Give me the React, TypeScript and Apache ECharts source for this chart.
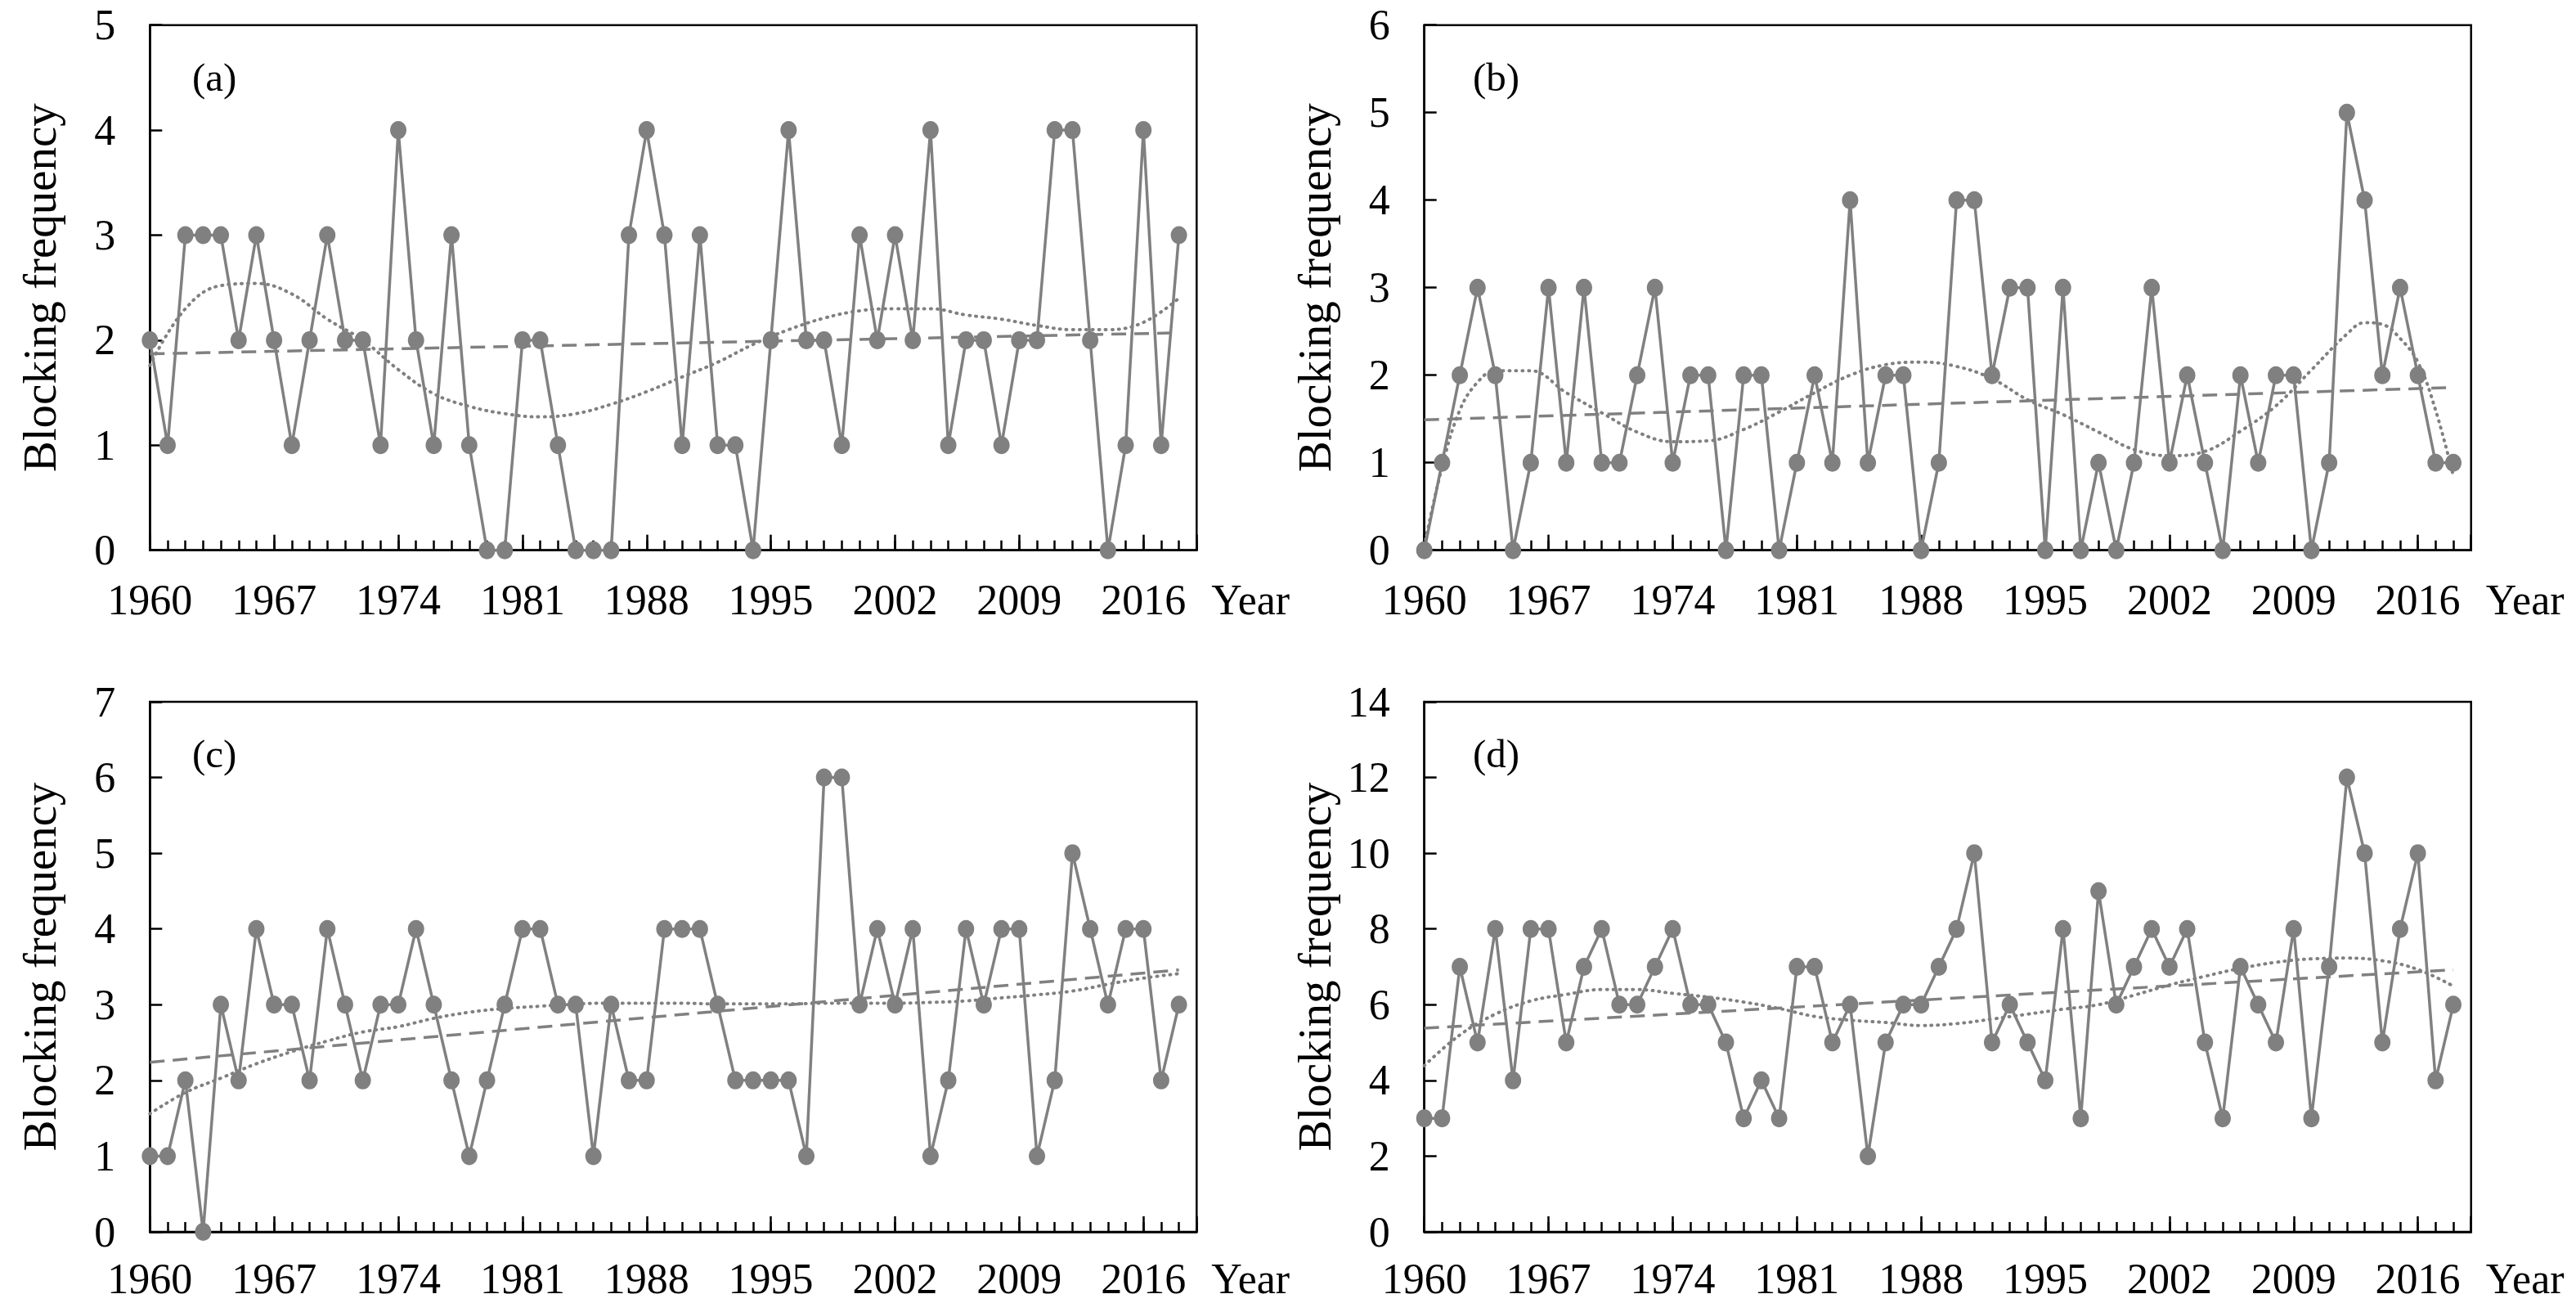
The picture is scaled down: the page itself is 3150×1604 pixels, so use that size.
import React, { useEffect, useRef } from "react";
import * as echarts from "echarts";

const years = [
  1960, 1961, 1962, 1963, 1964, 1965, 1966, 1967, 1968, 1969,
  1970, 1971, 1972, 1973, 1974, 1975, 1976, 1977, 1978, 1979,
  1980, 1981, 1982, 1983, 1984, 1985, 1986, 1987, 1988, 1989,
  1990, 1991, 1992, 1993, 1994, 1995, 1996, 1997, 1998, 1999,
  2000, 2001, 2002, 2003, 2004, 2005, 2006, 2007, 2008, 2009,
  2010, 2011, 2012, 2013, 2014, 2015, 2016, 2017, 2018,
];

const valuesA = [
  2, 1, 3, 3, 3, 2, 3, 2, 1, 2,
  3, 2, 2, 1, 4, 2, 1, 3, 1, 0,
  0, 2, 2, 1, 0, 0, 0, 3, 4, 3,
  1, 3, 1, 1, 0, 2, 4, 2, 2, 1,
  3, 2, 3, 2, 4, 1, 2, 2, 1, 2,
  2, 4, 4, 2, 0, 1, 4, 1, 3,
];
const valuesB = [
  0, 1, 2, 3, 2, 0, 1, 3, 1, 3,
  1, 1, 2, 3, 1, 2, 2, 0, 2, 2,
  0, 1, 2, 1, 4, 1, 2, 2, 0, 1,
  4, 4, 2, 3, 3, 0, 3, 0, 1, 0,
  1, 3, 1, 2, 1, 0, 2, 1, 2, 2,
  0, 1, 5, 4, 2, 3, 2, 1, 1,
];
const valuesC = [
  1, 1, 2, 0, 3, 2, 4, 3, 3, 2,
  4, 3, 2, 3, 3, 4, 3, 2, 1, 2,
  3, 4, 4, 3, 3, 1, 3, 2, 2, 4,
  4, 4, 3, 2, 2, 2, 2, 1, 6, 6,
  3, 4, 3, 4, 1, 2, 4, 3, 4, 4,
  1, 2, 5, 4, 3, 4, 4, 2, 3,
];
const valuesD = [
  3, 3, 7, 5, 8, 4, 8, 8, 5, 7,
  8, 6, 6, 7, 8, 6, 6, 5, 3, 4,
  3, 7, 7, 5, 6, 2, 5, 6, 6, 7,
  8, 10, 5, 6, 5, 4, 8, 3, 9, 6,
  7, 8, 7, 8, 5, 3, 7, 6, 5, 8,
  3, 7, 12, 10, 5, 8, 10, 4, 6,
];

// linear trend lines (read at 1960 and 2018)
const linearYears = [1960, 2018];
const linearA = [1.87, 2.07];
const linearB = [1.49, 1.86];
const linearC = [2.24, 3.46];
const linearD = [5.38, 6.92];

// polynomial trend lines
const polyYearsEven = [
  1960, 1962, 1964, 1966, 1968, 1970, 1972, 1974, 1976, 1978,
  1980, 1982, 1984, 1986, 1988, 1990, 1992, 1994, 1996, 1998,
  2000, 2002, 2004, 2006, 2008, 2010, 2012, 2014, 2016, 2018,
];
const polyA = [
  1.76, 2.3, 2.52, 2.54, 2.44, 2.2, 2.0, 1.72, 1.49, 1.37,
  1.3, 1.27, 1.3, 1.39, 1.51, 1.65, 1.79, 1.96, 2.1, 2.21,
  2.28, 2.3, 2.3, 2.24, 2.2, 2.14, 2.1, 2.1, 2.17, 2.4,
];
const polyYearsB = [
  1960, 1961, 1962, 1963, 1964, 1966, 1968, 1970, 1972, 1974,
  1976, 1978, 1980, 1982, 1984, 1986, 1988, 1990, 1992, 1994,
  1996, 1998, 2000, 2002, 2004, 2006, 2008, 2010, 2012, 2013,
  2014, 2015, 2016, 2017, 2018,
];
const polyB = [
  0.05, 0.95, 1.6, 1.92, 2.05, 2.05, 1.8, 1.57, 1.35, 1.24,
  1.25, 1.38, 1.58, 1.8, 2.0, 2.12, 2.15, 2.1, 1.96, 1.72,
  1.55, 1.35, 1.15, 1.08, 1.13, 1.36, 1.65, 2.06, 2.47, 2.6,
  2.58, 2.42, 2.15, 1.6, 0.85,
];
const polyC = [
  1.56, 1.84, 2.03, 2.22, 2.38, 2.52, 2.64, 2.71, 2.82, 2.9,
  2.95, 2.98, 3.01, 3.02, 3.02, 3.02, 3.01, 3.01, 3.01, 3.02,
  3.02, 3.02, 3.03, 3.05, 3.09, 3.13, 3.18, 3.27, 3.35, 3.41,
];
const polyD = [
  4.39, 5.2, 5.75, 6.1, 6.27, 6.4, 6.4, 6.3, 6.2, 6.07,
  5.9, 5.69, 5.59, 5.53, 5.45, 5.5, 5.62, 5.75, 5.88, 6.0,
  6.25, 6.52, 6.75, 6.96, 7.12, 7.21, 7.23, 7.16, 6.93, 6.49,
];

const panelLabels = ["(a)", "(b)", "(c)", "(d)"];
const yMaxes = [5, 6, 7, 14];
const yIntervals = [1, 1, 1, 2];

const FONT = '"Liberation Serif", "Times New Roman", serif';
const GRAY = "#808080";

const pairs = (xs: number[], ys: number[]) => xs.map((x, i) => [x, ys[i]]);

const panels = [
  { vals: valuesA, lin: linearA, polyX: polyYearsEven, poly: polyA },
  { vals: valuesB, lin: linearB, polyX: polyYearsB, poly: polyB },
  { vals: valuesC, lin: linearC, polyX: polyYearsEven, poly: polyC },
  { vals: valuesD, lin: linearD, polyX: polyYearsEven, poly: polyD },
];

const rects = [
  { left: 183.3, top: 30.7, width: 1280, height: 642, labelLeft: 235, labelMargin: 35 },
  { left: 1741.7, top: 30.7, width: 1280, height: 642, labelLeft: 1801, labelMargin: 35 },
  { left: 183.3, top: 858, width: 1280, height: 648, labelLeft: 235, labelMargin: 31 },
  { left: 1741.7, top: 858, width: 1280, height: 648, labelLeft: 1801, labelMargin: 31 },
];

function buildOption() {
  const grid: any[] = [];
  const xAxis: any[] = [];
  const yAxis: any[] = [];
  const series: any[] = [];
  const title: any[] = [];

  panels.forEach((p, i) => {
    const r = rects[i];
    grid.push({
      left: r.left,
      top: r.top,
      width: r.width,
      height: r.height,
      show: true,
      borderColor: "#000",
      borderWidth: 2.5,
      backgroundColor: "transparent",
    });
    // minor ticks axis
    xAxis.push({
      type: "value",
      gridIndex: i,
      min: 1960,
      max: 2019,
      interval: 1,
      position: "bottom",
      axisLine: { show: true, onZero: false, lineStyle: { color: "#000", width: 2.5 } },
      axisTick: { show: true, inside: true, length: 12, lineStyle: { color: "#000", width: 2.5 } },
      axisLabel: { show: false },
      splitLine: { show: false },
    });
    // major ticks + labels axis
    xAxis.push({
      type: "value",
      gridIndex: i,
      min: 1960,
      max: 2019,
      interval: 7,
      position: "bottom",
      axisLine: { show: false, onZero: false },
      axisTick: { show: true, inside: true, length: 19, lineStyle: { color: "#000", width: 2.5 } },
      axisLabel: {
        show: true,
        margin: r.labelMargin,
        fontSize: 52,
        fontFamily: FONT,
        color: "#000",
        showMinLabel: true,
        formatter: (v: number) => ((v - 1960) % 7 === 0 ? String(v) : ""),
      },
      splitLine: { show: false },
      name: "Year",
      nameLocation: "end",
      nameGap: 18,
      nameTextStyle: {
        fontSize: 52,
        fontFamily: FONT,
        color: "#000",
        verticalAlign: "top",
        padding: [r.labelMargin, 0, 0, 0],
      },
    });
    yAxis.push({
      type: "value",
      gridIndex: i,
      min: 0,
      max: yMaxes[i],
      interval: yIntervals[i],
      axisLine: { show: true, onZero: false, lineStyle: { color: "#000", width: 2.5 } },
      axisTick: { show: true, inside: true, length: 15, lineStyle: { color: "#000", width: 2.5 } },
      axisLabel: { margin: 42, fontSize: 52, fontFamily: FONT, color: "#000" },
      splitLine: { show: false },
      name: "Blocking frequency",
      nameLocation: "middle",
      nameGap: 106,
      nameRotate: 90,
      nameTextStyle: { fontSize: 57, fontFamily: FONT, color: "#000" },
    });
    title.push({
      text: panelLabels[i],
      left: r.labelLeft,
      top: r.top + 39,
      padding: 0,
      textStyle: { fontSize: 49, fontFamily: FONT, fontWeight: "normal", color: "#000" },
    });

    const xIdx = i * 2 + 1;
    series.push({
      type: "line",
      xAxisIndex: xIdx,
      yAxisIndex: i,
      data: pairs(years, p.vals),
      symbol: "circle",
      symbolSize: [20, 22],
      showSymbol: true,
      itemStyle: { color: GRAY },
      lineStyle: { color: GRAY, width: 3.5 },
      clip: false,
      z: 2,
    });
    series.push({
      type: "line",
      xAxisIndex: xIdx,
      yAxisIndex: i,
      data: pairs(linearYears, p.lin),
      symbol: "none",
      lineStyle: { color: GRAY, width: 3.5, type: [18, 10] },
      clip: false,
      z: 3,
    });
    series.push({
      type: "line",
      xAxisIndex: xIdx,
      yAxisIndex: i,
      data: pairs(p.polyX, p.poly),
      symbol: "none",
      smooth: 0.4,
      lineStyle: { color: GRAY, width: 4, type: [1, 7], cap: "round" },
      clip: false,
      z: 3,
    });
  });

  return {
    animation: false,
    backgroundColor: "#fff",
    title,
    grid,
    xAxis,
    yAxis,
    series,
  };
}

export default function App() {
  const ref = useRef<HTMLDivElement>(null);
  useEffect(() => {
    if (!ref.current) return;
    const chart = echarts.init(ref.current, null, { renderer: "svg" });
    chart.setOption(buildOption() as any);
    return () => chart.dispose();
  }, []);
  return (
    <div
      ref={ref}
      style={{ position: "fixed", left: 0, top: 0, width: 3150, height: 1604, background: "#fff" }}
    />
  );
}
